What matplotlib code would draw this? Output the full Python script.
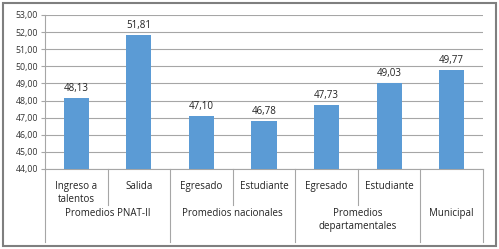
import matplotlib
matplotlib.use("Agg")
import matplotlib.pyplot as plt
from matplotlib.patches import Rectangle
import matplotlib.transforms as mtransforms

categories = ["Ingreso a\ntalentos", "Salida", "Egresado", "Estudiante", "Egresado", "Estudiante", ""]
groups = ["Promedios PNAT-II", "Promedios nacionales", "Promedios\ndepartamentales", "Municipal"]
group_sizes = [2, 2, 2, 1]
values = [48.13, 51.81, 47.10, 46.78, 47.73, 49.03, 49.77]
yticks = [44, 45, 46, 47, 48, 49, 50, 51, 52, 53]

plt.rcParams['font.family'] = ['Open Sans', 'DejaVu Sans']
fig = plt.figure(figsize=(4.99, 2.49), dpi=100)
ax = fig.add_axes([45/499, 1-169/249, (483-45)/499, (169-15)/249])

x = list(range(len(values)))
color = "#5B9BD5"
ax.bar(x, values, width=0.4, color=color, bottom=0, zorder=3)
ax.set_ylim(44, 53)
ax.set_xlim(-0.5, len(values)-0.5)
ax.set_yticks(yticks)
ax.set_yticklabels([f"{t:.2f}".replace(".", ",") for t in yticks], fontsize=6.3, color="#333333")
ax.yaxis.grid(True, color="#A6A6A6", linewidth=0.8, zorder=0)
ax.set_axisbelow(True)
for s in ["top", "right"]:
    ax.spines[s].set_visible(False)
ax.spines["left"].set_color("#A6A6A6")
ax.spines["bottom"].set_color("#A6A6A6")
ax.tick_params(axis="y", length=3, color="#A6A6A6", pad=2)
ax.set_xticks([])

for xi, v in zip(x, values):
    ax.text(xi, v + 0.25, f"{v:.2f}".replace(".", ","), ha="center", va="bottom", fontsize=7, color="#222222")

trans = mtransforms.blended_transform_factory(ax.transData, ax.transAxes)
ybot_short = (169-205)/154
ybot_long = (169-242)/154
for xi, lab in zip(x, categories):
    ax.text(xi, (169-181)/154, lab, transform=trans, ha="center", va="top", fontsize=7, color="#222222", linespacing=1.25)

# separators
bounds = [-0.5]
pos = -0.5
for gs in group_sizes:
    pos += gs
    bounds.append(pos)
for b in bounds:
    ax.plot([b, b], [0, ybot_long], transform=trans, color="#A6A6A6", lw=0.8, clip_on=False)
start = -0.5
for gs, g in zip(group_sizes, groups):
    for k in range(1, gs):
        ax.plot([start + k, start + k], [0, ybot_short], transform=trans, color="#A6A6A6", lw=0.8, clip_on=False)
    center = start + gs / 2
    ax.text(center, (169-208)/154, g, transform=trans, ha="center", va="top", fontsize=7, color="#222222", linespacing=1.25)
    start += gs

fig.patches.append(Rectangle((3/499, 3/249), 493/499, 243/249, transform=fig.transFigure,
                             fill=False, edgecolor="#7F7F7F", linewidth=1.5))
fig.savefig("out.png", dpi=100)
